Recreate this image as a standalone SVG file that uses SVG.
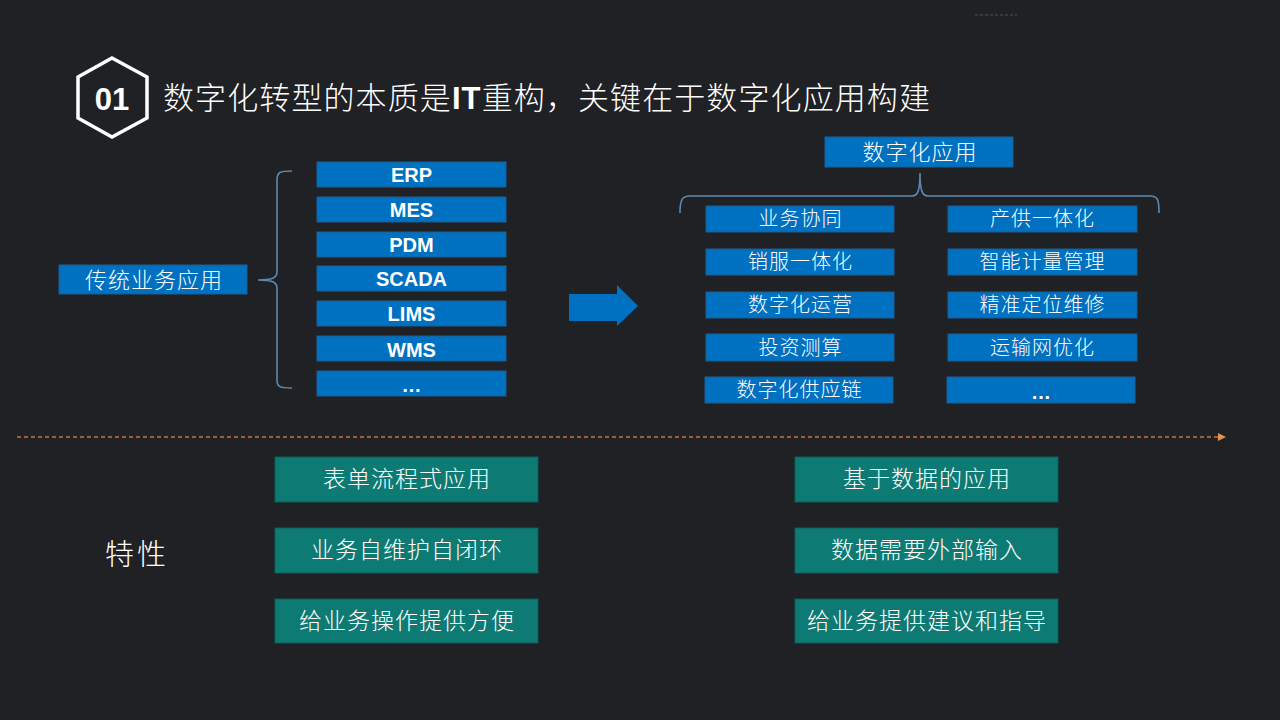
<svg xmlns="http://www.w3.org/2000/svg" width="1280" height="720" viewBox="0 0 1280 720">
<style>
.cn{font-family:"Noto Sans CJK SC","Noto Sans",sans-serif;font-weight:300;fill:#fff;text-anchor:middle;letter-spacing:1px}
.en{font-family:"Liberation Sans",Arial,sans-serif;font-weight:bold;fill:#fff;text-anchor:middle;font-size:20px}
.blue{fill:#0070C0;stroke:#1a5f96;stroke-width:1}
.teal{fill:#0E7A74;stroke:#0b5f5a;stroke-width:1}
.brace{fill:none;stroke:#5c89b3;stroke-width:1.6}
</style>
<defs>
<marker id="oa" markerWidth="8" markerHeight="8" refX="6" refY="4" orient="auto" markerUnits="userSpaceOnUse">
<path d="M0,0 L8,4 L0,8 Z" fill="#E8914A"/>
</marker>
</defs>
<rect width="1280" height="720" fill="#202124"/>
<line x1="975" y1="15" x2="1017" y2="15" stroke="#555" stroke-width="1" stroke-dasharray="3,2"/>

<g id="title">
<polygon points="112,58 147,77 147,118 112,137 78,118 78,77" fill="none" stroke="#fff" stroke-width="3.5"/>
<text x="112" y="110" font-family="'Liberation Sans',Arial,sans-serif" font-weight="bold" font-size="31" fill="#fff" text-anchor="middle">01</text>
<text x="163" y="109" font-family="'Noto Sans CJK SC',sans-serif" font-weight="300" font-size="31" letter-spacing="1.1" fill="#fff">数字化转型的本质是<tspan font-family="'Liberation Sans',Arial,sans-serif" font-weight="bold">IT</tspan>重构，关键在于数字化应用构建</text>
</g>

<g id="connectors">
<path class="brace" d="M292,171 C280,171 277,172 277,180 L277,272 C277,278 272,280 258,280 C272,280 277,282 277,288 L277,380 C277,387 280,388 292,388"/>
<path class="brace" d="M680,213 C680,200 682,196 690,196 L912,196 C918,196 920,190 920,173 C920,190 922,196 928,196 L1150,196 C1158,196 1159,200 1159,213"/>
<path d="M569,294 L617,294 L617,285 L638,306 L617,326 L617,321 L569,321 Z" fill="#0070C0"/>
<line x1="17" y1="437" x2="1224" y2="437" stroke="#C9743A" stroke-width="1.3" stroke-dasharray="4,3" marker-end="url(#oa)"/>
</g>

<g id="traditional">
<rect class="blue" x="59" y="265" width="188" height="29"/>
<text class="cn" x="154" y="288" font-size="22">传统业务应用</text>
</g>

<g id="erp"><rect class="blue" x="317" y="162" width="189" height="25"/><text class="en" x="411.5" y="182">ERP</text></g>
<g id="mes"><rect class="blue" x="317" y="197" width="189" height="25"/><text class="en" x="411.5" y="217">MES</text></g>
<g id="pdm"><rect class="blue" x="317" y="232" width="189" height="25"/><text class="en" x="411.5" y="252">PDM</text></g>
<g id="scada"><rect class="blue" x="317" y="266" width="189" height="25"/><text class="en" x="411.5" y="286">SCADA</text></g>
<g id="lims"><rect class="blue" x="317" y="301" width="189" height="25"/><text class="en" x="411.5" y="321">LIMS</text></g>
<g id="wms"><rect class="blue" x="317" y="336" width="189" height="25"/><text class="en" x="411.5" y="357">WMS</text></g>
<g id="etc1"><rect class="blue" x="317" y="371" width="189" height="25"/><text class="en" x="411.5" y="392">…</text></g>

<g id="digital">
<rect class="blue" x="825" y="137" width="188" height="30"/>
<text class="cn" x="920" y="160" font-size="22">数字化应用</text>
</g>

<g id="r1"><rect class="blue" x="706" y="206" width="188" height="26"/><text class="cn" x="800.5" y="226" font-size="20">业务协同</text></g>
<g id="r2"><rect class="blue" x="948" y="206" width="189" height="26"/><text class="cn" x="1042.5" y="226" font-size="20">产供一体化</text></g>
<g id="r3"><rect class="blue" x="706" y="249" width="188" height="26"/><text class="cn" x="800.5" y="269" font-size="20">销服一体化</text></g>
<g id="r4"><rect class="blue" x="948" y="249" width="189" height="26"/><text class="cn" x="1042.5" y="269" font-size="20">智能计量管理</text></g>
<g id="r5"><rect class="blue" x="706" y="292" width="188" height="26"/><text class="cn" x="800.5" y="312" font-size="20">数字化运营</text></g>
<g id="r6"><rect class="blue" x="948" y="292" width="189" height="26"/><text class="cn" x="1042.5" y="312" font-size="20">精准定位维修</text></g>
<g id="r7"><rect class="blue" x="706" y="334" width="188" height="27"/><text class="cn" x="800.5" y="355" font-size="20">投资测算</text></g>
<g id="r8"><rect class="blue" x="948" y="334" width="189" height="27"/><text class="cn" x="1042.5" y="355" font-size="20">运输网优化</text></g>
<g id="r9"><rect class="blue" x="705" y="377" width="188" height="26"/><text class="cn" x="799.5" y="397" font-size="20">数字化供应链</text></g>
<g id="r10"><rect class="blue" x="947" y="377" width="188" height="26"/><text class="en" x="1041" y="399" font-size="22">…</text></g>

<g id="feature"><text x="105" y="565" font-family="'Noto Sans CJK SC',sans-serif" font-weight="300" font-size="29" letter-spacing="3" fill="#fff">特性</text></g>

<g id="t1"><rect class="teal" x="275" y="457" width="263" height="45"/><text class="cn" x="407" y="487" font-size="23">表单流程式应用</text></g>
<g id="t2"><rect class="teal" x="275" y="528" width="263" height="45"/><text class="cn" x="407" y="558" font-size="23">业务自维护自闭环</text></g>
<g id="t3"><rect class="teal" x="275" y="599" width="263" height="44"/><text class="cn" x="407" y="629" font-size="23">给业务操作提供方便</text></g>
<g id="t4"><rect class="teal" x="795" y="457" width="263" height="45"/><text class="cn" x="927" y="487" font-size="23">基于数据的应用</text></g>
<g id="t5"><rect class="teal" x="795" y="528" width="263" height="45"/><text class="cn" x="927" y="558" font-size="23">数据需要外部输入</text></g>
<g id="t6"><rect class="teal" x="795" y="599" width="263" height="44"/><text class="cn" x="927" y="629" font-size="23">给业务提供建议和指导</text></g>
</svg>
